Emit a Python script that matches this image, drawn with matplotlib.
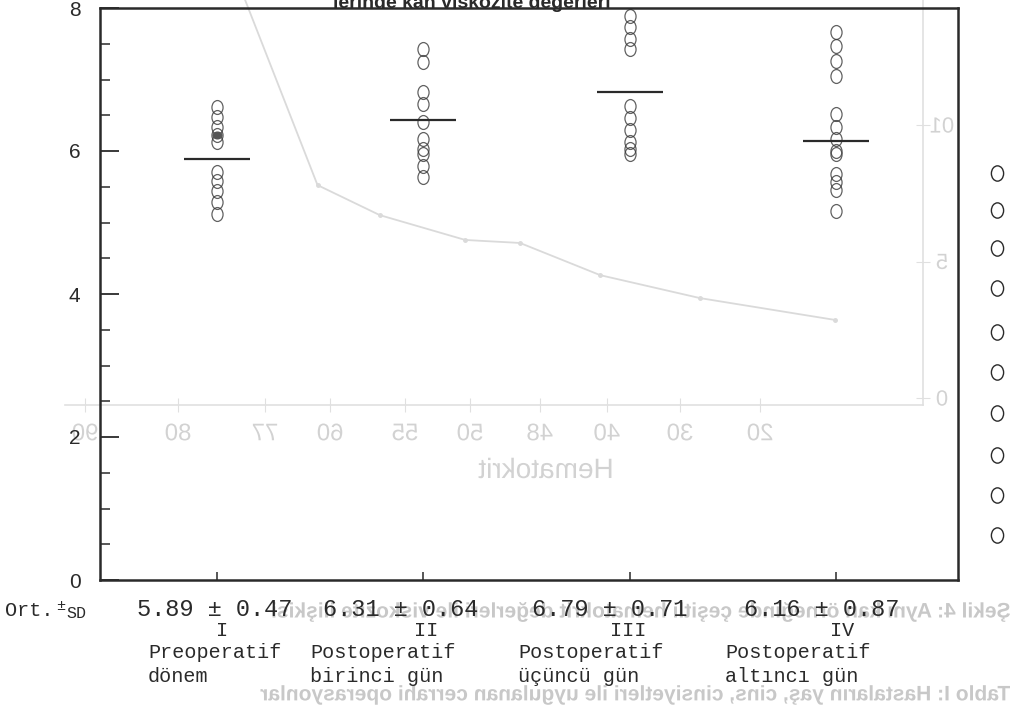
import matplotlib
matplotlib.use('Agg')
import matplotlib.pyplot as plt
import numpy as np
from matplotlib.markers import MarkerStyle
from matplotlib.transforms import Affine2D
from matplotlib.textpath import TextPath
from matplotlib.patches import PathPatch
from matplotlib.font_manager import FontProperties

# main chart data (blood viscosity per period)
groups = [1, 2, 3, 4]
roman = ['I', 'II', 'III', 'IV']
periods = ['Preoperatif\ndönem', 'Postoperatif\nbirinci gün',
           'Postoperatif\nüçüncü gün', 'Postoperatif\naltıncı gün']
mean_sd = ['5.89 ± 0.47', '6.31 ± 0.64', '6.79 ± 0.71', '6.16 ± 0.87']

vals_1 = [6.62, 6.48, 6.34, 6.22, 6.13, 5.71, 5.58, 5.44, 5.29, 5.12]
vals_2 = [7.43, 7.24, 6.83, 6.66, 6.41, 6.17, 6.03, 5.96, 5.79, 5.64]
vals_3 = [7.89, 7.73, 7.57, 7.43, 6.63, 6.46, 6.29, 6.13, 6.03, 5.96]
vals_4 = [7.66, 7.47, 7.26, 7.05, 6.52, 6.34, 6.17, 6.0, 5.96, 5.68, 5.57, 5.45, 5.16]
filled_1 = [6.22]
mean_line = [5.89, 6.43, 6.83, 6.14]

# faint chart showing through from the back page (mirrored)
ghost_hct = ['90', '80', '77', '60', '55', '50', '48', '40', '30', '20']
ghost_hct_px = [85, 178, 265, 330, 405, 470, 540, 607, 680, 760]
ghost_x = [1.79, 3.1, 3.93, 5.07, 5.8, 6.87, 8.2, 10.0]
ghost_visc = [17.0, 7.8, 6.7, 5.79, 5.68, 4.5, 3.66, 2.86]
ghost_yticks = [0, 5, 10]

# column of circles from the neighbouring table (pixel rows)
side_y = [173, 210, 248, 288, 332, 372, 413, 455, 495, 535]

W, H = 1022, 718
fig = plt.figure(figsize=(W / 100, H / 100), dpi=100)
fig.patch.set_facecolor('white')

ghost = '#d2d2d2'
ink = '#2a2a2a'

# overlay in pixel units, for mirrored text
ov = fig.add_axes([0, 0, 1, 1], zorder=-2)
ov.set_xlim(0, W)
ov.set_ylim(0, H)
ov.axis('off')

def mirror_text(x, y, s, size, color, weight='bold', ha='center'):
    fp = FontProperties(family='Liberation Sans', weight=weight)
    tp = TextPath((0, 0), s, size=size, prop=fp)
    bb = tp.get_extents()
    if ha == 'center':
        dx = -(bb.x0 + bb.x1) / 2
    elif ha == 'right':   # original start lands on the right after mirroring
        dx = -bb.x0
    else:
        dx = -bb.x1
    tr = Affine2D().translate(dx, -(bb.y0 + bb.y1) / 2).scale(-1, 1).translate(x, H - y)
    ov.add_patch(PathPatch(tr.transform_path(tp), fc=color, ec='none'))

# ghost axes
gx = fig.add_axes([65 / W, (H - 405) / H, 858 / W, 435 / H], zorder=-1)
gx.set_facecolor('none')
gx.set_xlim(-0.267, 11.173)
gx.set_ylim(-0.256, 15.68)
gx.plot(ghost_x, ghost_visc, color='#dadada', lw=1.3)
gx.plot(ghost_x[1:], ghost_visc[1:], 'o', color='#dadada', ms=2.5)
for s in gx.spines.values():
    s.set_color('#e0e0e0')
    s.set_linewidth(1.2)
gx.spines['left'].set_visible(False)
gx.set_xticks([(p - 85) / 75 for p in ghost_hct_px])
gx.set_yticks(ghost_yticks)
gx.tick_params(colors='#e0e0e0', labelleft=False, labelbottom=False, left=False,
               right=True, direction='inout', length=10)
for px, lab in zip(ghost_hct_px, ghost_hct):
    mirror_text(px, 432, lab, 24, ghost, weight='normal')
for v in ghost_yticks:
    mirror_text(942, 398 - 27.3 * v, str(v)[::-1], 22, ghost, weight='normal')
mirror_text(545, 468, 'Hematokrit', 28, ghost, weight='normal')
mirror_text(1010, 612, 'Şekil 4: Aynı kan örneğinde çeşitli hematokrit değerleri ile viskozite ilişkisi',
            21, '#c8c8c8', ha='right')
mirror_text(1010, 695, 'Tablo I: Hastaların yaş, cins, cinsiyetleri ile uygulanan cerrahi operasyonlar',
            21, '#c8c8c8', ha='right')

# side circles
side = MarkerStyle('o', fillstyle='none', transform=Affine2D().scale(0.8, 1.0))
ov.plot([997] * len(side_y), [H - y for y in side_y], linestyle='none', marker=side,
        ms=11, mec=ink, mew=1.0)

# main axes
ax = fig.add_axes([100 / W, (H - 580) / H, 858 / W, 572 / H])
ax.set_facecolor('none')
ax.set_xlim(0.435, 4.59)
ax.set_ylim(0, 8)

oval = MarkerStyle('o', fillstyle='none', transform=Affine2D().scale(0.8, 1.0))
for g, vals in zip(groups, [vals_1, vals_2, vals_3, vals_4]):
    ax.plot([g] * len(vals), vals, linestyle='none', marker=oval, ms=10,
            mec='#3a3a3a', mew=0.9, alpha=0.8)
ax.plot([groups[0]] * len(filled_1), filled_1, linestyle='none',
        marker=MarkerStyle('o', transform=Affine2D().scale(0.8, 0.6)), ms=8,
        color='#555555')
for g, m in zip(groups, mean_line):
    ax.hlines(m, g - 0.16, g + 0.16, color=ink, lw=1.6)

for s in ax.spines.values():
    s.set_linewidth(1.8)
    s.set_color(ink)
ax.set_xticks(groups)
ax.set_xticklabels([])
ax.set_yticks([0, 2, 4, 6, 8])
ax.set_yticks(np.arange(0, 8.01, 0.5), minor=True)
ax.set_yticklabels(['0', '2', '4', '6', '8'], fontsize=15, family='Liberation Sans', color='#333333')
ax.tick_params(axis='y', which='major', direction='in', length=14, width=1.3, pad=14, colors=ink)
ax.tick_params(axis='y', which='minor', direction='in', length=7, width=1.1, colors=ink)
ax.tick_params(axis='x', direction='in', length=6, width=1.1, colors=ink)

# text under the chart
mono = 'Liberation Mono'
fig.text(5 / W, 1 - 610 / H, 'Ort.', fontsize=14.5, family=mono, color=ink, va='center')
fig.text(56 / W, 1 - 606 / H, '±', fontsize=11, family=mono, color=ink, va='center')
fig.text(66 / W, 1 - 613 / H, 'SD', fontsize=12, family=mono, color=ink, va='center')
val_x = [215, 401, 610, 822]
for x, t in zip(val_x, mean_sd):
    fig.text(x / W, 1 - 610 / H, t, fontsize=17, family=mono, color=ink, ha='center', va='center')
rom_x = [222, 426, 628, 842]
for x, t in zip(rom_x, roman):
    fig.text(x / W, 1 - 631 / H, t, fontsize=14.5, family=mono, color=ink, ha='center', va='center')
per_x = [148, 310, 518, 725]
for x, t in zip(per_x, periods):
    fig.text(x / W, 1 - 643 / H, t, fontsize=14.5, family=mono, color=ink, ha='left', va='top',
             linespacing=1.3)

# top title, mostly cut off by the page edge
fig.text(333 / W, 1 - 8 / H, 'lerinde kan viskozite değerleri', fontsize=14, family='Liberation Sans',
         weight='bold', color=ink, va='baseline')

fig.savefig('out.png', dpi=100)
